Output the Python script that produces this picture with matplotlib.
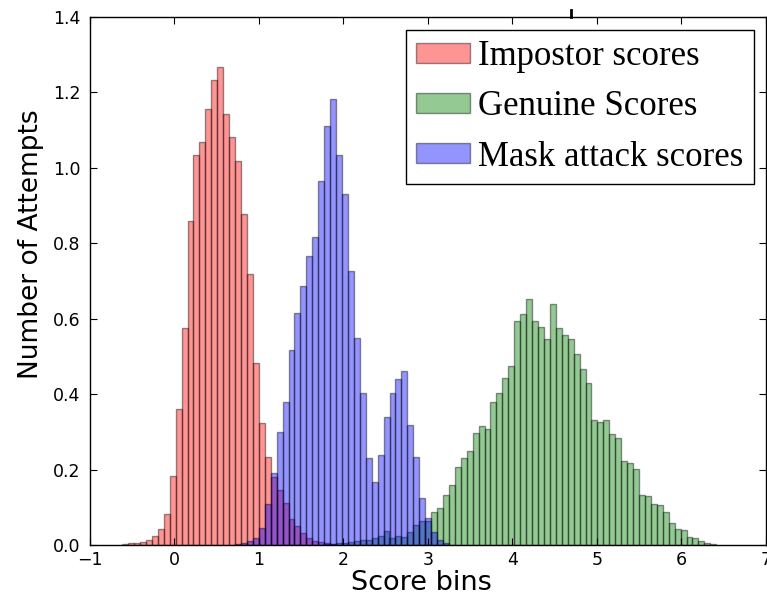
import matplotlib
matplotlib.use("Agg")
import matplotlib.pyplot as plt
import numpy as np
from matplotlib.lines import Line2D

# bin layout shared by the three histograms
bin_width = 0.0703
impostor_first_edge = -0.619
mask_first_edge = 0.717
genuine_first_edge = 1.771

# normalised counts per bin
impostor_heights = [0.002, 0.004, 0.006, 0.009, 0.013, 0.025, 0.042, 0.082, 0.183, 0.360,
                    0.576, 0.860, 1.034, 1.068, 1.156, 1.233, 1.267, 1.142, 1.083, 1.017,
                    0.877, 0.718, 0.482, 0.324, 0.233, 0.181, 0.146, 0.111, 0.069, 0.051,
                    0.032, 0.019, 0.011, 0.007, 0.004, 0.002]
mask_heights = [0.002, 0.005, 0.010, 0.019, 0.045, 0.110, 0.190, 0.300, 0.378, 0.517,
                0.616, 0.687, 0.767, 0.818, 0.964, 1.111, 1.182, 1.034, 0.931, 0.727,
                0.550, 0.402, 0.230, 0.168, 0.239, 0.339, 0.402, 0.440, 0.462, 0.318,
                0.234, 0.125, 0.071, 0.035, 0.013, 0.004]
genuine_heights = [0.002, 0.003, 0.004, 0.006, 0.008, 0.010, 0.012, 0.014, 0.018, 0.025,
                   0.036, 0.018, 0.025, 0.022, 0.035, 0.053, 0.063, 0.063,
                   0.088, 0.099, 0.133, 0.159, 0.206, 0.230, 0.250, 0.298, 0.316, 0.307,
                   0.380, 0.402, 0.444, 0.475, 0.595, 0.613, 0.652, 0.595, 0.577, 0.546,
                   0.639, 0.575, 0.557, 0.546, 0.507, 0.467, 0.429, 0.332, 0.327, 0.332,
                   0.294, 0.283, 0.224, 0.217, 0.202, 0.133, 0.130, 0.109, 0.106, 0.087,
                   0.058, 0.043, 0.040, 0.022, 0.019, 0.011, 0.006, 0.002]

labels = ["Impostor scores", "Genuine Scores", "Mask attack scores"]


def edges_for(first, heights):
    return first + bin_width * np.arange(len(heights) + 1)


fig = plt.figure(figsize=(7.67, 5.97), dpi=100)
ax = fig.add_axes([0.1173, 0.0871, 0.8814, 0.8844])

series = [
    (impostor_first_edge, impostor_heights, "r", labels[0]),
    (genuine_first_edge, genuine_heights, "g", labels[1]),
    (mask_first_edge, mask_heights, "b", labels[2]),
]
for first, heights, col, lab in series:
    edges = edges_for(first, heights)
    ax.hist(edges[:-1], bins=edges, weights=heights, color=col, alpha=0.42,
            edgecolor="k", linewidth=1.0, label=lab)

ax.set_xlim(-1, 7)
ax.set_ylim(0, 1.4)
ax.set_xticks(np.arange(-1, 8, 1))
ax.set_yticks(np.arange(0, 1.41, 0.2))
ax.set_yticklabels(["%.1f" % v for v in np.arange(0, 1.41, 0.2)])
ax.tick_params(direction="in", top=True, right=True, length=5, labelsize=12.5)
ax.tick_params(axis="y", pad=7)
ax.tick_params(axis="x", pad=4)
for sp in ax.spines.values():
    sp.set_linewidth(1.0)

ax.set_xlabel("Score bins", fontsize=19.5)
ax.xaxis.set_label_coords(0.49, -0.047)
ax.set_ylabel("Number of Attempts", fontsize=19)
ax.yaxis.set_label_coords(-0.068, 0.57)

leg = ax.legend(loc="upper right", prop={"family": "Liberation Serif", "size": 25},
                fancybox=False, framealpha=1, edgecolor="k", borderaxespad=0.36,
                handlelength=1.55, handleheight=0.52, labelspacing=0.5,
                handletextpad=0.22, borderpad=0.3)
leg.get_frame().set_linewidth(1.0)

# short mark above the top spine
fig.add_artist(Line2D([571 / 767, 571 / 767], [1 - 10 / 597, 1 - 17 / 597],
                      color="k", linewidth=2))

fig.savefig("out.png", dpi=100)
